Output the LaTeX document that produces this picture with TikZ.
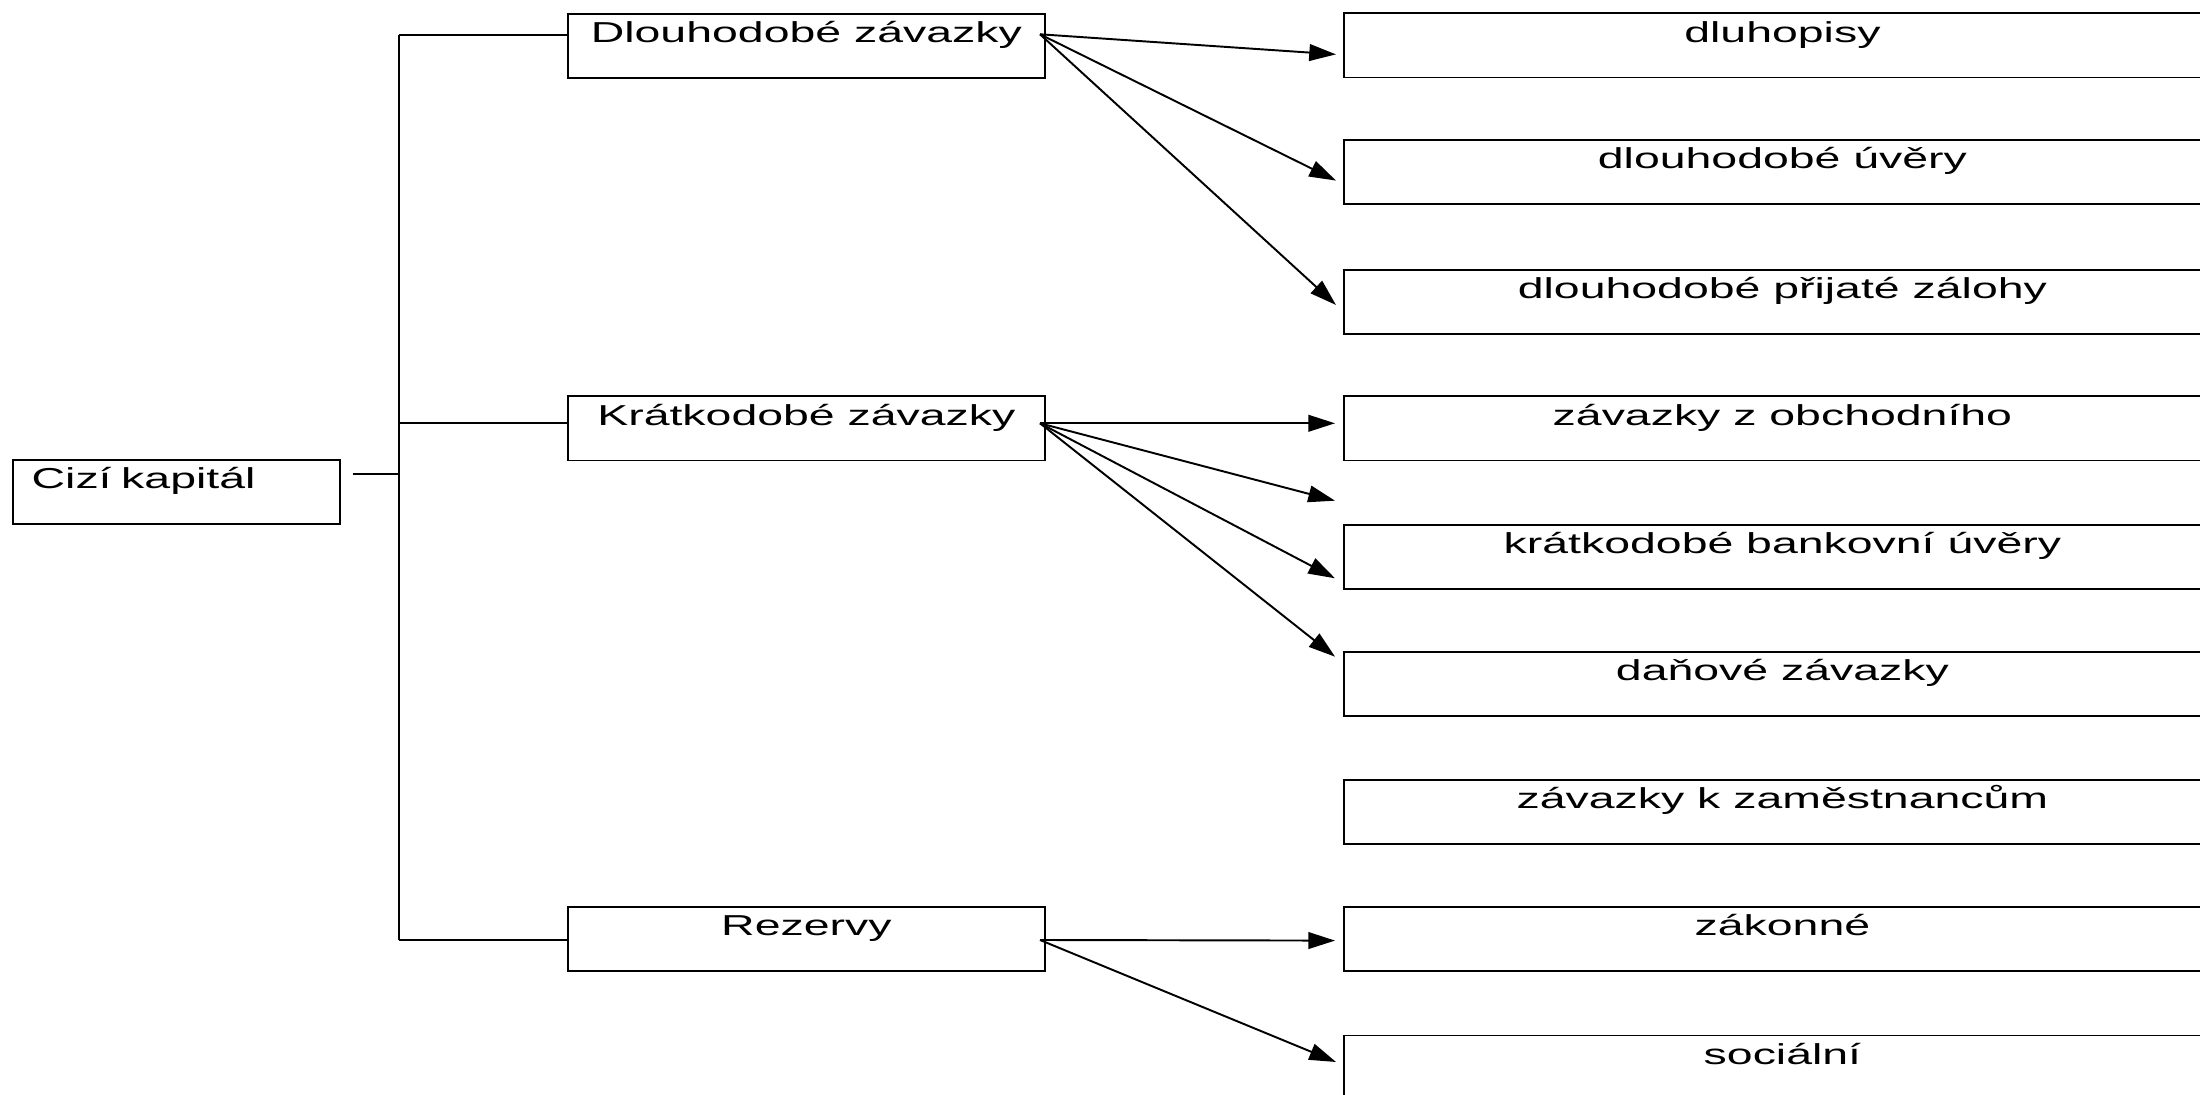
\documentclass[tikz,border=0pt]{standalone}
\usepackage{fontspec}
\setmainfont{Liberation Sans}[FakeStretch=1.61]
\usetikzlibrary{arrows.meta}
\begin{document}
\begin{tikzpicture}[x=0.01cm,y=-0.01cm,
  box/.style={draw, line width=0.55pt, inner sep=0pt, text height=0.286cm, text depth=0.354cm,
              anchor=north west, font=\fontsize{8.2pt}{10pt}\selectfont},
  midbox/.style={box, minimum width=4.765cm},
  leafbox/.style={box, minimum width=8.77cm},
  conn/.style={line width=0.55pt},
  arr/.style={line width=0.55pt, -{Triangle[length=0.267cm,width=0.167cm]}}]
\useasboundingbox (0,0) rectangle (2200,1095);
\clip (0,0) rectangle (2200,1095);

% nodes
\node[box, inner xsep=0.19cm, text width=2.896cm, align=left] (root) at (11.7,459.3) {Cizí kapitál};
\node[midbox] (dz) at (567,12.7) {Dlouhodobé závazky};
\node[midbox] (kz) at (567,395.5) {Krátkodobé závazky};
\node[midbox] (rz) at (567,906) {Rezervy};

\node[leafbox] (r1) at (1342.7,12.5) {dluhopisy};
\node[leafbox] (r2) at (1342.7,139.4) {dlouhodobé úvěry};
\node[leafbox] (r3) at (1342.7,268.7) {dlouhodobé přijaté zálohy};
\node[leafbox] (r4) at (1342.7,395.5) {závazky z obchodního};
\node[leafbox] (r5) at (1342.7,524) {krátkodobé bankovní úvěry};
\node[leafbox] (r6) at (1342.7,650.6) {daňové závazky};
\node[leafbox] (r7) at (1342.7,779.3) {závazky k zaměstnancům};
\node[leafbox] (r8) at (1342.7,906.3) {zákonné};
\node[leafbox] (r9) at (1342.7,1034.5) {sociální};

% tree connectors
\coordinate (stub) at (352.7,473.7);
\coordinate (jroot) at (399,473.7);
\coordinate (jtop) at (399,35);
\coordinate (jmid) at (399,423.3);
\coordinate (jbot) at (399,940);
\draw[conn] (stub) -- (jroot);
\draw[conn] (jtop) -- (jbot);
\draw[conn] (jtop) -- (dz.west |- jtop);
\draw[conn] (jmid) -- (kz.west |- jmid);
\draw[conn] (jbot) -- (rz.west |- jbot);

% arrow origins
\coordinate (dzo) at (1040,34.3);
\coordinate (kzo) at (1040,423.3);
\coordinate (rzo) at (1040,940);
% arrow tips
\coordinate (t1) at (1336,54.4);
\coordinate (t2) at (1336,180.6);
\coordinate (t3) at (1336,305);
\coordinate (t4) at (1335,423.3);
\coordinate (t5) at (1335,500.7);
\coordinate (t6) at (1335,578.3);
\coordinate (t7) at (1335,656.7);
\coordinate (t8) at (1335,940.6);
\coordinate (t9) at (1336,1062);

\draw[arr] (dzo) -- (t1);
\draw[arr] (dzo) -- (t2);
\draw[arr] (dzo) -- (t3);
\draw[arr] (kzo) -- (t4);
\draw[arr] (kzo) -- (t5);
\draw[arr] (kzo) -- (t6);
\draw[arr] (kzo) -- (t7);
\draw[arr] (rzo) -- (t8);
\draw[arr] (rzo) -- (t9);
\end{tikzpicture}
\end{document}
